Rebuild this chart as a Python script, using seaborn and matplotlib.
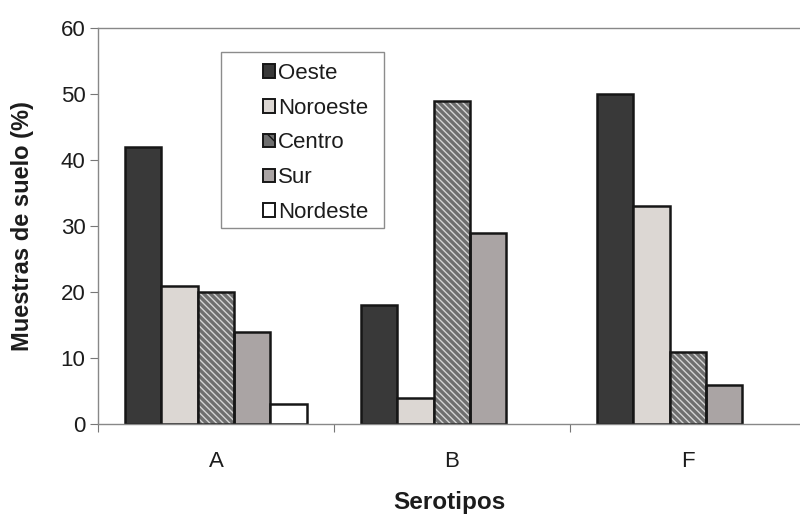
import matplotlib
matplotlib.use("Agg")
import matplotlib.pyplot as plt
from matplotlib.patches import Rectangle
import seaborn as sns
import pandas as pd

serotipos = ["A", "B", "F"]
regiones = ["Oeste", "Noroeste", "Centro", "Sur", "Nordeste"]
oeste = [42, 18, 50]
noroeste = [21, 4, 33]
centro = [20, 49, 11]
sur = [14, 29, 6]
nordeste = [3, 0, 0]

colores = {"Oeste": "#393939", "Noroeste": "#dcd7d3", "Centro": "#6e6e6e",
           "Sur": "#aaa4a4", "Nordeste": "#ffffff"}

rows = []
for reg, vals in zip(regiones, [oeste, noroeste, centro, sur, nordeste]):
    for s, v in zip(serotipos, vals):
        rows.append({"Serotipos": s, "Region": reg, "Valor": v})
df = pd.DataFrame(rows)

sns.set_theme(style="white")
plt.rcParams["font.family"] = ["Liberation Sans", "DejaVu Sans"]

fig = plt.figure(figsize=(8.0, 5.16), dpi=100)
ax = fig.add_axes([0.1225, 0.178, 0.8775, 0.7677])

sns.barplot(data=df, x="Serotipos", y="Valor", hue="Region", hue_order=regiones,
            palette=colores, width=0.77, edgecolor="#161616", linewidth=1.8,
            saturation=1, errorbar=None, ax=ax, legend=False)

for reg, cont in zip(regiones, ax.containers):
    for p in cont.patches:
        if p.get_height() == 0:
            p.set_visible(False)
            continue
        if reg == "Centro":
            p.set_hatch("\\\\\\\\\\")
            p.set_edgecolor("#d4d4d4")
            p.set_linewidth(0)
            ax.add_patch(Rectangle(p.get_xy(), p.get_width(), p.get_height(),
                                   fill=False, edgecolor="#161616", linewidth=1.8,
                                   zorder=p.get_zorder() + 0.1))

# legend: square swatches, frame drawn separately so the entries sit off-centre
handles = []
for reg in regiones:
    kw = dict(facecolor=colores[reg], edgecolor="#161616", linewidth=1.4)
    if reg == "Centro":
        kw["hatch"] = "\\\\"
    handles.append(Rectangle((0, 0), 1, 1, **kw))
leg = ax.legend(handles, regiones, loc="upper left", bbox_to_anchor=(0.235, 0.912),
                frameon=False, fontsize=16, handlelength=0.56,
                handleheight=0.56, handletextpad=0.12, labelspacing=0.62,
                borderpad=0, borderaxespad=0)
for t in leg.get_texts():
    t.set_color("#1c1c1c")
ax.add_patch(Rectangle((0.175, 0.495), 0.233, 0.444, transform=ax.transAxes,
                       fill=False, edgecolor="#8c8c8c", linewidth=1.0, zorder=5))

ax.set_ylim(0, 60)
ax.set_yticks(range(0, 61, 10))
ax.set_xlim(-0.5, 2.475)
ax.set_xticks([0, 1, 2])
ax.set_xticklabels(serotipos)
ax.set_xticks([-0.5, 0.5, 1.5], minor=True)

ax.tick_params(axis="y", which="major", direction="out", length=6, width=0.8,
               color="#777777", labelsize=16, pad=3, labelcolor="#1c1c1c", left=True)
ax.tick_params(axis="x", which="major", length=0, labelsize=16, pad=19,
               labelcolor="#1c1c1c")
ax.tick_params(axis="x", which="minor", direction="out", length=6, width=0.8,
               color="#777777", bottom=True)

for side in ["left", "bottom", "top"]:
    ax.spines[side].set_color("#888888")
    ax.spines[side].set_linewidth(1.0)
ax.spines["right"].set_visible(False)

ax.set_xlabel("Serotipos", fontsize=17.5, fontweight="bold", color="#1c1c1c", labelpad=14)
ax.set_ylabel("Muestras de suelo (%)", fontsize=17, fontweight="bold", color="#1c1c1c",
              labelpad=19)

fig.savefig("out.png", dpi=100)
